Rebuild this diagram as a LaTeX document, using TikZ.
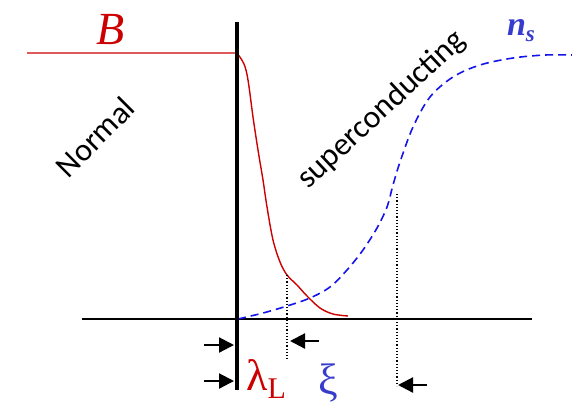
\documentclass[tikz,border=0pt]{standalone}
\usepackage{fontspec}
\setmainfont{Carlito}
\newfontfamily\tnrfont{Liberation Serif}
\usetikzlibrary{arrows.meta}

\definecolor{fieldred}{RGB}{204,0,0}
\definecolor{densblue}{RGB}{20,20,235}
\definecolor{labelblue}{RGB}{55,60,205}

\begin{document}
\begin{tikzpicture}[
    x=1pt, y=-1pt,
    % ── Curve styles ──
    wall/.style={line width=4pt, draw=black},
    axisline/.style={line width=1.2pt, draw=black},
    fieldcurve/.style={line width=1.4pt, draw=fieldred},
    denscurve/.style={line width=1.6pt, draw=densblue, dash pattern=on 8pt off 5pt},
    guide/.style={line width=1.2pt, draw=black, dotted},
    marker/.style={-{Triangle[length=15pt, width=15pt]}, line width=2.2pt, draw=black},
    % ── Text styles ──
    regionlbl/.style={font=\fontsize{32}{36}\selectfont, inner sep=0pt},
    greeklbl/.style={font=\tnrfont\fontsize{44}{48}\selectfont, inner sep=0pt},
]
\useasboundingbox (0,0) rectangle (572,413);

% ════════════════════════════════════════════════
%  WALL AND AXIS
% ════════════════════════════════════════════════

\coordinate (wallTop) at (237,22);
\coordinate (wallBot) at (237,390);
\coordinate (origin)  at (237,319);
\coordinate (axisL)   at (82,319);
\coordinate (axisR)   at (532,319);

\draw [axisline] (axisL) -- (axisR);

% ════════════════════════════════════════════════
%  FIELD B (red) AND DENSITY n_s (blue)
% ════════════════════════════════════════════════

\coordinate (fieldL) at (27,53);
\coordinate (edge)   at (237,53);

\draw [fieldcurve] (fieldL) -- (edge)
    plot [smooth, tension=0.55] coordinates {
        (237,53) (244,64) (248,80) (253,117) (258,150) (263,180)
        (267,207) (273,240) (280,262) (287,275) (297,285)
        (307,296) (320,308) (333,314) (348,316)};

\draw [denscurve] plot [smooth, tension=0.55] coordinates {
        (238,319) (263,313) (287,306) (310,298) (330,287) (347,270)
        (363,250) (377,228) (387,207) (393,185) (400,162) (413,127)
        (430,97) (453,77) (480,65) (513,58) (545,55) (572,55)};

\draw [wall] (wallTop) -- (wallBot);

% ════════════════════════════════════════════════
%  LENGTH MARKERS
% ════════════════════════════════════════════════

\coordinate (lamTop) at (287,275);
\coordinate (lamBot) at (287,361);
\coordinate (xiTop)  at (397,194);
\coordinate (xiBot)  at (397,386);

\draw [guide] (lamTop) -- (lamBot);
\draw [guide] (xiTop) -- (xiBot);

\coordinate (m1s) at (204,345);  \coordinate (m1e) at (234,345);
\coordinate (m2s) at (204,381);  \coordinate (m2e) at (234,381);
\coordinate (m3s) at (319,341);  \coordinate (m3e) at (290,341);
\coordinate (m4s) at (427,385);  \coordinate (m4e) at (398,385);

\draw [marker] (m1s) -- (m1e);
\draw [marker] (m2s) -- (m2e);
\draw [marker] (m3s) -- (m3e);
\draw [marker] (m4s) -- (m4e);

% ════════════════════════════════════════════════
%  LABELS
% ════════════════════════════════════════════════

\node (Blbl) [font=\tnrfont\itshape\fontsize{46}{50}\selectfont, text=fieldred, inner sep=0pt]
    at (111,30) {B};
\node (nslbl) [font=\tnrfont\bfseries\itshape\fontsize{34}{38}\selectfont, text=labelblue, inner sep=0pt]
    at (521,31) {n\raisebox{-6pt}{\fontsize{23}{25}\selectfont s}};
\node (normal) [regionlbl, rotate=45] at (95,137) {Normal};
\node (supcon) [regionlbl, rotate=43] at (382,110) {superconducting};
\node (lamlbl) [greeklbl, text=fieldred, anchor=base west]
    at (246,390) {λ\raisebox{-8pt}{\fontsize{30}{32}\selectfont L}};
\node (xilbl) [greeklbl, text=labelblue, anchor=base] at (328,394) {ξ};

\end{tikzpicture}
\end{document}
